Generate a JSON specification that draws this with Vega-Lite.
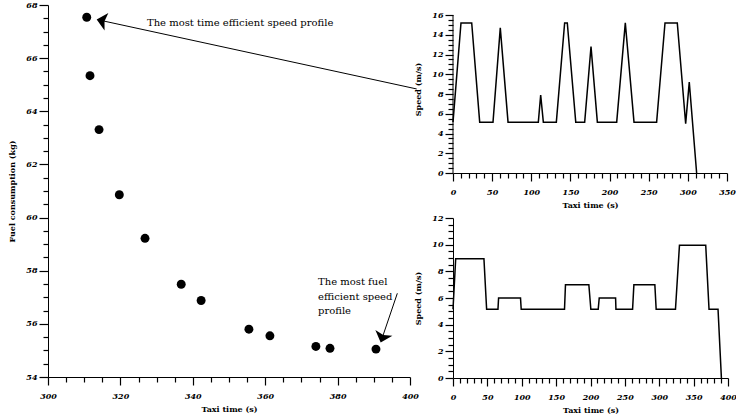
{
  "$schema": "https://vega.github.io/schema/vega-lite/v6.json",
  "padding": {"left": 8, "top": 1, "right": 0, "bottom": 0},
  "background": "white",
  "config": {
    "view": {"stroke": null},
    "font": "DejaVu Serif",
    "axis": {
      "labelFont": "DejaVu Serif", "labelFontWeight": "bold", "labelFontStyle": "italic",
      "labelFontSize": 8, "labelColor": "black",
      "titleFont": "DejaVu Serif", "titleFontWeight": "bold", "titleFontSize": 8, "titleColor": "black",
      "domainColor": "black", "tickColor": "black", "domainWidth": 1, "tickWidth": 1.2, "ticks": true,
      "grid": false, "labelOverlap": false, "labelFlush": false, "labelBound": false
    },
    "axisX": {"labelPadding": 7, "titlePadding": 5},
    "axisY": {"labelPadding": 2, "titlePadding": 9}
  },
  "datasets": {
    "fuel": [
      {"x": 310.7, "y": 67.54}, {"x": 311.6, "y": 65.34}, {"x": 314.1, "y": 63.31},
      {"x": 319.7, "y": 60.86}, {"x": 326.8, "y": 59.22}, {"x": 336.8, "y": 57.49},
      {"x": 342.3, "y": 56.88}, {"x": 355.5, "y": 55.8}, {"x": 361.3, "y": 55.55},
      {"x": 374.0, "y": 55.15}, {"x": 377.9, "y": 55.08}, {"x": 390.6, "y": 55.05}
    ],
    "arrows": [
      {"id": 1, "o": 1, "x": 401.85, "y": 64.84}, {"id": 1, "o": 2, "x": 314.26, "y": 67.43},
      {"id": 2, "o": 1, "x": 396.5, "y": 57.15}, {"id": 2, "o": 2, "x": 392.17, "y": 55.41}
    ],
    "heads": [
      {"x": 313.45, "y": 67.45, "angle": 282.2},
      {"x": 391.9, "y": 55.3, "angle": 198.7}
    ],
    "notes": [
      {"x": 327.35, "y": 67.32, "text": "The most time efficient speed profile"},
      {"x": 374.6, "y": 57.575, "text": "The most fuel\nefficient speed\nprofile"}
    ],
    "vline1": [{"x": 0, "y": 0, "y2": 16}],
    "profile1": [
      {"x": 0, "y": 5.15}, {"x": 10.2, "y": 15.2}, {"x": 23.9, "y": 15.2}, {"x": 34.1, "y": 5.15},
      {"x": 51.1, "y": 5.15}, {"x": 60.4, "y": 14.7}, {"x": 70.3, "y": 5.15}, {"x": 109.0, "y": 5.15},
      {"x": 112.0, "y": 7.9}, {"x": 115.4, "y": 5.15}, {"x": 132.0, "y": 5.15}, {"x": 142.6, "y": 15.2},
      {"x": 146.0, "y": 15.2}, {"x": 156.8, "y": 5.15}, {"x": 168.2, "y": 5.15}, {"x": 176.3, "y": 12.8},
      {"x": 184.4, "y": 5.15}, {"x": 209.1, "y": 5.15}, {"x": 220.1, "y": 15.2}, {"x": 231.2, "y": 5.15},
      {"x": 260.1, "y": 5.15}, {"x": 270.8, "y": 15.2}, {"x": 286.5, "y": 15.2}, {"x": 297.2, "y": 5.0},
      {"x": 301.8, "y": 9.2}, {"x": 311.2, "y": 0}
    ],
    "profile2": [
      {"x": 0, "y": 5.15}, {"x": 3.9, "y": 8.95}, {"x": 45.0, "y": 8.95}, {"x": 48.9, "y": 5.15},
      {"x": 65.4, "y": 5.15}, {"x": 66.3, "y": 6.0}, {"x": 98.2, "y": 6.0}, {"x": 99.2, "y": 5.15},
      {"x": 162.2, "y": 5.15}, {"x": 163.6, "y": 7.0}, {"x": 197.6, "y": 7.0}, {"x": 200.5, "y": 5.15},
      {"x": 211.2, "y": 5.15}, {"x": 212.7, "y": 6.0}, {"x": 236.5, "y": 6.0}, {"x": 237.0, "y": 5.15},
      {"x": 261.2, "y": 5.15}, {"x": 263.1, "y": 7.0}, {"x": 293.6, "y": 7.0}, {"x": 295.5, "y": 5.15},
      {"x": 323.6, "y": 5.15}, {"x": 329.4, "y": 9.95}, {"x": 367.6, "y": 9.95}, {"x": 372.4, "y": 5.15},
      {"x": 385.5, "y": 5.15}, {"x": 390.4, "y": 0}
    ]
  },
  "spacing": -5,
  "hconcat": [
    {
      "width": 362,
      "height": 372,
      "resolve": {"axis": {"x": "independent", "y": "independent"}},
      "layer": [
        {
          "data": {"name": "fuel"},
          "mark": {"type": "point", "filled": true, "size": 80, "color": "black", "opacity": 1},
          "encoding": {
            "x": {"field": "x", "type": "quantitative", "title": "Taxi time (s)",
              "scale": {"domain": [300, 400], "nice": false, "zero": false},
              "axis": {"orient": "bottom", "values": [300, 320, 340, 360, 380, 400], "format": "d", "tickSize": 8}},
            "y": {"field": "y", "type": "quantitative", "title": "Fuel consumption (kg)",
              "scale": {"domain": [54, 68], "nice": false, "zero": false},
              "axis": {"orient": "left", "values": [54, 56, 58, 60, 62, 64, 66, 68], "format": "d", "tickSize": 9}}
          }
        },
        {
          "data": {"name": "fuel"},
          "mark": {"type": "point", "opacity": 0},
          "encoding": {
            "x": {"field": "x", "type": "quantitative", "title": null,
              "scale": {"domain": [300, 400], "nice": false, "zero": false},
              "axis": {"orient": "bottom", "values": [305,310,315,325,330,335,345,350,355,365,370,375,385,390,395], "labels": false, "domain": false, "tickSize": 5}},
            "y": {"field": "y", "type": "quantitative", "title": null,
              "scale": {"domain": [54, 68], "nice": false, "zero": false},
              "axis": {"orient": "left", "values": [54.5,55,55.5,56.5,57,57.5,58.5,59,59.5,60.5,61,61.5,62.5,63,63.5,64.5,65,65.5,66.5,67,67.5], "labels": false, "domain": false, "tickSize": 5}}
          }
        },
        {
          "data": {"name": "arrows"},
          "mark": {"type": "line", "color": "black", "strokeWidth": 1, "clip": false},
          "encoding": {
            "x": {"field": "x", "type": "quantitative", "scale": {"domain": [300, 400], "nice": false, "zero": false}, "axis": null},
            "y": {"field": "y", "type": "quantitative", "scale": {"domain": [54, 68], "nice": false, "zero": false}, "axis": null},
            "detail": {"field": "id"}, "order": {"field": "o"}
          }
        },
        {
          "data": {"name": "heads"},
          "mark": {"type": "point", "filled": true, "shape": "M0,0L0.9,1L0,0.8L-0.9,1Z", "size": 400, "color": "black", "opacity": 1, "strokeWidth": 0, "clip": false},
          "encoding": {
            "x": {"field": "x", "type": "quantitative", "scale": {"domain": [300, 400], "nice": false, "zero": false}, "axis": null},
            "y": {"field": "y", "type": "quantitative", "scale": {"domain": [54, 68], "nice": false, "zero": false}, "axis": null},
            "angle": {"field": "angle", "type": "quantitative", "scale": null}
          }
        },
        {
          "data": {"name": "notes"},
          "mark": {"type": "text", "font": "DejaVu Serif", "fontSize": 10, "align": "left", "baseline": "middle", "lineBreak": "\n", "lineHeight": 14.5, "color": "black"},
          "encoding": {
            "x": {"field": "x", "type": "quantitative", "scale": {"domain": [300, 400], "nice": false, "zero": false}, "axis": null},
            "y": {"field": "y", "type": "quantitative", "scale": {"domain": [54, 68], "nice": false, "zero": false}, "axis": null},
            "text": {"field": "text"}
          }
        }
      ]
    },
    {
      "spacing": 5,
      "vconcat": [
        {
          "width": 274,
          "height": 168,
          "resolve": {"axis": {"x": "independent", "y": "independent"}},
          "layer": [
            {
              "data": {"name": "profile1"},
              "mark": {"type": "line", "color": "black", "strokeWidth": 1.5},
              "encoding": {
                "x": {"field": "x", "type": "quantitative", "title": "Taxi time (s)",
                  "scale": {"domain": [0, 350], "nice": false, "zero": false},
                  "axis": {"orient": "bottom", "values": [0, 50, 100, 150, 200, 250, 300, 350], "format": "d", "tickSize": 8}},
                "y": {"field": "y", "type": "quantitative", "title": "Speed (m/s)",
                  "scale": {"domain": [0, 17.0127], "nice": false, "zero": false},
                  "axis": {"orient": "left", "values": [0, 2, 4, 6, 8, 10, 12, 14, 16], "format": "d", "tickSize": 8, "domain": false}}
              }
            },
            {
              "data": {"name": "profile1"},
              "mark": {"type": "point", "opacity": 0},
              "encoding": {
                "x": {"field": "x", "type": "quantitative", "title": null,
                  "scale": {"domain": [0, 350], "nice": false, "zero": false},
                  "axis": {"orient": "bottom", "values": [10,20,30,40,60,70,80,90,110,120,130,140,160,170,180,190,210,220,230,240,260,270,280,290,310,320,330,340], "labels": false, "domain": false, "tickSize": 5}},
                "y": {"field": "y", "type": "quantitative", "title": null,
                  "scale": {"domain": [0, 17.0127], "nice": false, "zero": false},
                  "axis": {"orient": "left", "values": [0.5,1,1.5,2.5,3,3.5,4.5,5,5.5,6.5,7,7.5,8.5,9,9.5,10.5,11,11.5,12.5,13,13.5,14.5,15,15.5], "labels": false, "domain": false, "tickSize": 5}}
              }
            },
            {
              "data": {"name": "vline1"},
              "mark": {"type": "rule", "color": "black", "strokeWidth": 1},
              "encoding": {
                "x": {"field": "x", "type": "quantitative", "scale": {"domain": [0, 350], "nice": false, "zero": false}, "axis": null},
                "y": {"field": "y", "type": "quantitative", "scale": {"domain": [0, 17.0127], "nice": false, "zero": false}, "axis": null},
                "y2": {"field": "y2"}
              }
            }
          ]
        },
        {
          "width": 275,
          "height": 160,
          "resolve": {"axis": {"x": "independent", "y": "independent"}},
          "layer": [
            {
              "data": {"name": "profile2"},
              "mark": {"type": "line", "color": "black", "strokeWidth": 1.5},
              "encoding": {
                "x": {"field": "x", "type": "quantitative", "title": "Taxi time (s)",
                  "scale": {"domain": [0, 400], "nice": false, "zero": false},
                  "axis": {"orient": "bottom", "values": [0, 50, 100, 150, 200, 250, 300, 350, 400], "format": "d", "tickSize": 8}},
                "y": {"field": "y", "type": "quantitative", "title": "Speed (m/s)",
                  "scale": {"domain": [0, 12], "nice": false, "zero": false},
                  "axis": {"orient": "left", "values": [0, 2, 4, 6, 8, 10, 12], "format": "d", "tickSize": 8}}
              }
            },
            {
              "data": {"name": "profile2"},
              "mark": {"type": "point", "opacity": 0},
              "encoding": {
                "x": {"field": "x", "type": "quantitative", "title": null,
                  "scale": {"domain": [0, 400], "nice": false, "zero": false},
                  "axis": {"orient": "bottom", "values": [10,20,30,40,60,70,80,90,110,120,130,140,160,170,180,190,210,220,230,240,260,270,280,290,310,320,330,340,360,370,380,390], "labels": false, "domain": false, "tickSize": 5}},
                "y": {"field": "y", "type": "quantitative", "title": null,
                  "scale": {"domain": [0, 12], "nice": false, "zero": false},
                  "axis": {"orient": "left", "values": [0.5,1,1.5,2.5,3,3.5,4.5,5,5.5,6.5,7,7.5,8.5,9,9.5,10.5,11,11.5], "labels": false, "domain": false, "tickSize": 5}}
              }
            }
          ]
        }
      ]
    }
  ]
}
